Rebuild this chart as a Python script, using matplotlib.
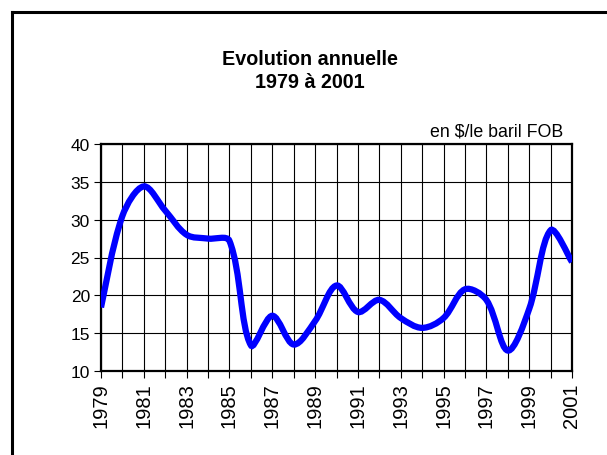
import matplotlib
matplotlib.use("Agg")
import matplotlib.pyplot as plt
import numpy as np
from matplotlib.path import Path
from matplotlib.patches import PathPatch
from matplotlib.lines import Line2D

plt.rcParams["font.family"] = ["Liberation Sans", "DejaVu Sans"]

years = list(range(1979, 2002))
prices = [18.4, 30.5, 34.4, 31.2, 28.0, 27.5, 27.2, 13.4, 17.3, 13.5, 16.6, 21.3,
          17.8, 19.4, 17.0, 15.7, 17.0, 20.8, 19.4, 12.7, 18.2, 28.6, 24.4]
yticks = [10, 15, 20, 25, 30, 35, 40]
title = "Evolution annuelle\n1979 à 2001"
unit_label = "en $/le baril FOB"


def smooth_path(ax, xs, ys):
    # smoothed line like a spreadsheet chart: cubic Bezier through every point,
    # handle lengths weighted by the on-screen segment lengths
    pts = np.column_stack([xs, ys]).astype(float)
    scr = ax.transData.transform(pts)
    n = len(pts)
    d = np.hypot(*np.diff(scr, axis=0).T)
    verts = [tuple(pts[0])]
    codes = [Path.MOVETO]
    for i in range(n - 1):
        i0 = max(i - 1, 0)
        i3 = min(i + 2, n - 1)
        d01 = d[i - 1] if i > 0 else d[i]
        d12 = d[i]
        d23 = d[i + 1] if i + 2 < n else d[i]
        c1 = pts[i] + (pts[i + 1] - pts[i0]) * d12 / (d01 + d12) / 3
        c2 = pts[i + 1] - (pts[i3] - pts[i]) * d12 / (d12 + d23) / 3
        verts += [tuple(c1), tuple(c2), tuple(pts[i + 1])]
        codes += [Path.CURVE4] * 3
    return Path(verts, codes)


fig = plt.figure(figsize=(6.07, 4.56), dpi=100)
ax = fig.add_axes([101 / 607, 1 - 372 / 456, 471 / 607, 227 / 456])

ax.set_xlim(years[0], years[-1])
ax.set_ylim(yticks[0], yticks[-1])
ax.set_yticks(yticks)
ax.set_xticks(years)
ax.set_xticklabels([str(y) if (y - years[0]) % 2 == 0 else "" for y in years],
                   rotation=90)
ax.grid(True, color="black", lw=0.8)
ax.set_axisbelow(True)
ax.tick_params(direction="out", length=5, width=0.8, pad=3)
ax.tick_params(axis="y", labelsize=12.5)
ax.tick_params(axis="x", labelsize=14.5)
for s in ax.spines.values():
    s.set_linewidth(1.6)

ax.add_patch(PathPatch(smooth_path(ax, years, prices), facecolor="none",
                       edgecolor="#0000ff", lw=4.5, capstyle="butt", zorder=3))

fig.text(310 / 607, 1 - 71 / 456, title, ha="center", va="center",
         fontsize=14.2, fontweight="bold", linespacing=1.3)
fig.text(563 / 607, 1 - 136 / 456, unit_label, ha="right", va="baseline",
         fontsize=12.8)

# chart frame (only left and top edges fall inside the picture)
fig.add_artist(Line2D([12 / 607, 12 / 607], [0, 1 - 13 / 456],
                      transform=fig.transFigure, color="black", lw=2.2))
fig.add_artist(Line2D([12 / 607, 1], [1 - 13 / 456, 1 - 13 / 456],
                      transform=fig.transFigure, color="black", lw=2.2))

fig.savefig("out.png", dpi=100)
